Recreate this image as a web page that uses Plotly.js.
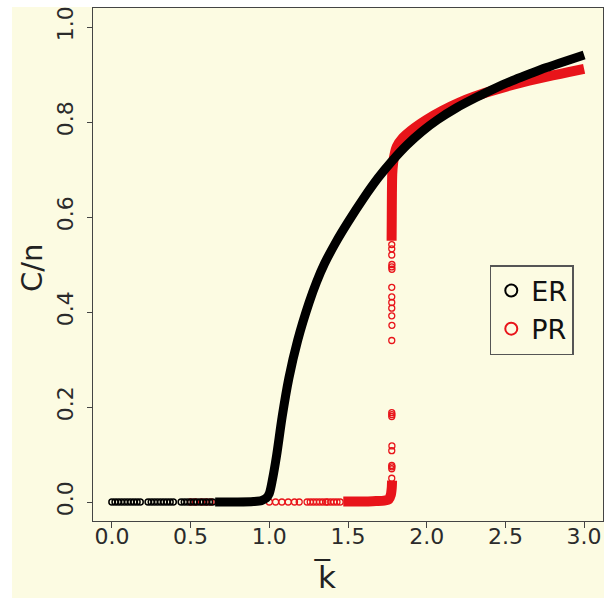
<!DOCTYPE html>
<html><head><meta charset="utf-8">
<script src="https://cdn.plot.ly/plotly-3.0.1.min.js"></script>
<style>
html,body{margin:0;padding:0;background:#ffffff;width:604px;height:598px;overflow:hidden}
#chart{position:absolute;left:12px;top:7px;width:592px;height:591px}
</style>
</head><body><div id="chart"></div>
<script>
// ER: isolated zero-size points (sparse region) and dense band
const erSparseK = [0.0,0.02,0.04,0.06,0.08,0.10,0.12,0.14,0.16,0.18,0.23,0.25,0.27,0.29,0.31,0.33,0.35,0.37,0.39,0.44,0.46,0.48,0.50,0.52,0.54,0.56,0.58,0.60,0.62,0.64];
const erSparseC = [0,0,0,0,0,0,0,0,0,0,0,0,0,0,0,0,0,0,0,0,0,0,0,0,0,0,0,0,0,0];
const erBandK = [0.656,0.80,0.90,0.95,0.98,1.0,1.02,1.046,1.082,1.124,1.18,1.253,1.30,1.351,1.42,1.498,1.60,1.693,1.78,1.876,1.97,2.07,2.19,2.316,2.44,2.56,2.66,2.756,2.88,3.0];
const erBandC = [0,0,0.001,0.003,0.008,0.018,0.047,0.097,0.18,0.26,0.34,0.42,0.463,0.502,0.545,0.588,0.64,0.683,0.718,0.752,0.78,0.805,0.83,0.852,0.872,0.889,0.902,0.914,0.928,0.941];
// PR: isolated points and dense band (null = gap)
const prSparseK = [0.50,0.53,0.57,0.60,0.63,1.0,1.04,1.08,1.12,1.16,1.19,1.24,1.26,1.28,1.30,1.32,1.34,1.36,1.37,1.39,1.41,1.43,1.45,
  1.778,1.778,1.779,1.778,1.778,1.779,1.778,1.779,1.778,1.778,1.779,1.778,1.778,1.778,1.778,1.778,1.779,1.778,1.779,1.778,1.778,1.778];
const prSparseC = [0,0,0,0,0,0,0,0,0,0,0,0,0,0,0,0,0,0,0,0,0,0,0,
  0.05,0.07,0.074,0.077,0.108,0.118,0.18,0.184,0.188,0.34,0.372,0.392,0.408,0.42,0.432,0.452,0.49,0.495,0.5,0.52,0.533,0.542];
const prBandK = [1.47,1.55,1.62,1.68,1.73,1.76,1.772,1.778,1.78,null,1.777,1.778,1.779,1.781,1.786,1.796,1.81,1.85,1.90,2.0,2.1,2.2,2.3,2.4,2.5,2.6,2.7,2.8,2.9,3.0];
const prBandC = [0.001,0.001,0.001,0.002,0.003,0.006,0.015,0.03,0.045,null,0.55,0.6,0.65,0.69,0.712,0.732,0.748,0.767,0.782,0.805,0.824,0.84,0.853,0.864,0.874,0.883,0.891,0.898,0.905,0.912];
const xTickVals = [0,0.5,1,1.5,2,2.5,3];
const xTickText = ['0.0','0.5','1.0','1.5','2.0','2.5','3.0'];
const yTickVals = [0,0.2,0.4,0.6,0.8,1.0];
const yTickText = ['0.0','0.2','0.4','0.6','0.8','1.0'];

const RED = '#e8141a';
const BLACK = '#000000';
const CREAM = '#fcfbe2';
const FONT = 'DejaVu Sans, Arial, sans-serif';
const tickFont = {family:FONT, size:22, color:'#2b2b2b'};

const data = [
  {x:prBandK, y:prBandC, mode:'lines', line:{color:RED, width:10, simplify:false, shape:'spline', smoothing:0.6}, connectgaps:false, showlegend:false, hoverinfo:'skip'},
  {x:prSparseK, y:prSparseC, mode:'markers', name:'PR', legendrank:2,
   marker:{symbol:'circle-open', size:6, color:RED, line:{width:1.3, color:RED}}},
  {x:erBandK, y:erBandC, mode:'lines', line:{color:BLACK, width:9, simplify:false, shape:'spline', smoothing:0.8}, showlegend:false, hoverinfo:'skip'},
  {x:erSparseK, y:erSparseC, mode:'markers', name:'ER', legendrank:1,
   marker:{symbol:'circle-open', size:6, color:BLACK, line:{width:1.5, color:BLACK}}}
];

const layout = {
  width:592, height:591,
  margin:{l:81, r:1, t:1, b:77},
  paper_bgcolor:CREAM, plot_bgcolor:CREAM,
  font:{family:FONT, color:'#222'},
  xaxis:{range:[-0.12,3.12], tickvals:xTickVals, ticktext:xTickText, ticks:'outside', ticklen:6, tickwidth:1, tickcolor:'#444',
    showline:true, linecolor:'#444', linewidth:1.3, mirror:true, showgrid:false, zeroline:false, tickfont:tickFont,
    ticklabelstandoff:-11, ticklabeloverflow:'allow'},
  yaxis:{range:[-0.04,1.04], tickvals:yTickVals, ticktext:yTickText, ticks:'outside', ticklen:5, tickwidth:1, tickcolor:'#444',
    showline:true, linecolor:'#444', linewidth:1.3, mirror:true, showgrid:false, zeroline:false, tickfont:tickFont, tickangle:-90,
    ticklabelstandoff:5, ticklabeloverflow:'allow'},
  showlegend:true,
  legend:{x:0.778, y:0.499, xanchor:'left', yanchor:'top', bgcolor:CREAM, bordercolor:'#555', borderwidth:1.5,
    font:{family:FONT, size:27, color:'#111'}, itemsizing:'constant', tracegroupgap:0},
  annotations:[
    {xref:'paper', yref:'paper', x:0.455, y:-0.147, text:'k\u0305', showarrow:false, borderpad:0,
     font:{family:FONT, size:31, color:'#222'}, xanchor:'center', yanchor:'bottom'},
    {xref:'paper', yref:'paper', x:-0.1206, y:0.494, text:'C/n', showarrow:false, textangle:-90,
     font:{family:FONT, size:29, color:'#222'}, xanchor:'center', yanchor:'middle'}
  ]
};
Plotly.newPlot('chart', data, layout, {displayModeBar:false, staticPlot:true});
</script>
</body></html>
